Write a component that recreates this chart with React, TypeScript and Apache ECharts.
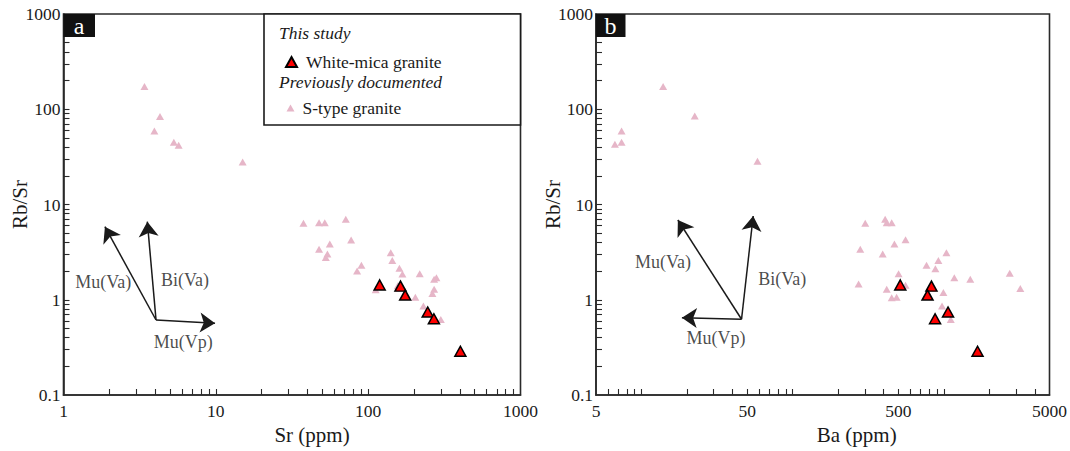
import React, { useEffect, useRef } from "react";
import * as echarts from "echarts";

// ---------- text ----------
const panelLabels = ["a", "b"];
const xAxisNames = ["Sr (ppm)", "Ba (ppm)"];
const yAxisName = "Rb/Sr";
const seriesNames = ["White-mica granite", "S-type granite"];
const legendHeadings = ["This study", "Previously documented"];
const vectorNames = ["Mu(Va)", "Bi(Va)", "Mu(Vp)"];

// ---------- axes ----------
const xLabelValuesA = [1, 10, 100, 1000];
const xLabelValuesB = [5, 50, 500, 5000];
const yLabelValues = [0.1, 1, 10, 100, 1000];
const xTickValuesA = [2, 3, 4, 5, 6, 7, 8, 9, 10, 20, 30, 40, 50, 60, 70, 80, 90, 100, 200, 300, 400, 500, 600, 700, 800, 900];
const xTickValuesB = [6, 7, 8, 9, 10, 20, 30, 40, 50, 60, 70, 80, 90, 100, 200, 300, 400, 500, 600, 700, 800, 900, 1000, 2000, 3000, 4000];
const yTickValues = [0.2, 0.3, 0.4, 0.5, 0.6, 0.7, 0.8, 0.9, 1, 2, 3, 4, 5, 6, 7, 8, 9, 10, 20, 30, 40, 50, 60, 70, 80, 90, 100, 200, 300, 400, 500, 600, 700, 800, 900];

// ---------- data: white-mica granite (this study) ----------
const whiteSr = [119, 163, 175, 246, 270, 403];
const whiteBa = [515, 828, 780, 1066, 875, 1671];
const whiteRbSr = [1.43, 1.39, 1.12, 0.744, 0.632, 0.288];

// ---------- data: S-type granite (previously documented) ----------
const sTypeSr = [3.4, 4.3, 3.95, 5.3, 5.7, 15, 37.6, 47.6, 51.9, 71.3, 77.3, 56, 47.6, 54, 52.7, 90.3, 84.6, 140.7, 144, 160.4, 167.8, 218, 271, 280.6, 271, 264, 112, 156.4, 204, 230.5, 299.8];
const sTypeRbSrA = [173, 84, 59, 45, 42, 28, 6.35, 6.44, 6.44, 6.99, 4.24, 3.85, 3.39, 3.02, 2.77, 2.3, 2.0, 3.12, 2.59, 2.14, 1.86, 1.88, 1.64, 1.7, 1.29, 1.16, 1.27, 1.4, 1.06, 0.86, 0.62];
const sTypeBa = [13.9, 22.5, 7.38, 6.67, 7.38, 58.5, 302, 409, 419, 452, 558, 471, 280, 394, 1040, 920, 768, 879, 1173, 1496, 2729, 3205, 502, 273, 558, 419, 452, 487, 993, 973, 1111];
const sTypeRbSrB = [173, 85, 59, 43, 45, 28.4, 6.35, 6.99, 6.44, 6.44, 4.27, 3.85, 3.39, 3.02, 3.12, 2.59, 2.3, 2.12, 1.7, 1.64, 1.9, 1.31, 1.88, 1.46, 1.42, 1.29, 1.05, 1.06, 1.19, 0.86, 0.62];

// ---------- mineral vectors (data coordinates) ----------
const vectorOriginA = [4.05, 0.613];
const vectorTipsA = [[1.87, 5.85], [3.55, 6.6], [9.88, 0.566]];
const vectorLabelPosA = [[1.825, 1.547], [6.28, 1.61], [6.12, 0.363]];
const vectorOriginB = [45.9, 0.624];
const vectorTipsB = [[17.4, 6.87], [54.8, 7.57], [18.5, 0.648]];
const vectorLabelPosB = [[13.87, 2.51], [85.4, 1.64], [31.1, 0.394]];

const FONT = "Liberation Serif";
const INK = "#1a1a1a";
const PINK = "#e6b6c8";
const RED = "#ff0000";

const fmt = (v: number) => String(+Number(v).toPrecision(6));

function xAxis(gridIndex: number, min: number, max: number, labels: number[], ticks: number[], name: string, padLeft: number) {
  return {
    type: "log", logBase: 10, gridIndex, min, max,
    name, nameLocation: "middle", nameGap: 29, nameMoveOverlap: false,
    nameTextStyle: { fontFamily: FONT, fontSize: 21, color: INK, padding: [0, 0, 0, padLeft] },
    axisLine: { show: true, lineStyle: { color: "#2a2a2a", width: 1.6 } },
    axisTick: { show: true, inside: true, length: 6, customValues: ticks, lineStyle: { color: "#2a2a2a", width: 1.1 } },
    axisLabel: { show: true, customValues: labels, margin: 7, fontFamily: FONT, fontSize: 17.5, color: INK, formatter: fmt },
    splitLine: { show: false },
    minorTick: { show: false },
  };
}

function yAxis(gridIndex: number, nameGap: number) {
  return {
    type: "log", logBase: 10, gridIndex, min: 0.1, max: 1000,
    name: yAxisName, nameLocation: "middle", nameGap, nameRotate: 90, nameMoveOverlap: false,
    nameTextStyle: { fontFamily: FONT, fontSize: 21, color: INK },
    axisLine: { show: true, lineStyle: { color: "#2a2a2a", width: 1.6 } },
    axisTick: { show: true, inside: true, length: 6, customValues: yTickValues, lineStyle: { color: "#2a2a2a", width: 1.1 } },
    axisLabel: { show: true, customValues: yLabelValues, margin: 3, fontFamily: FONT, fontSize: 17.5, color: INK, formatter: fmt },
    splitLine: { show: false },
    minorTick: { show: false },
  };
}

function pairs(xs: number[], ys: number[]) {
  return xs.map((x, i) => [x, ys[i]]);
}

function scatterSeries(idx: number, name: string, data: number[][]) {
  const white = name === seriesNames[0];
  return {
    type: "scatter", name, xAxisIndex: idx, yAxisIndex: idx, data,
    symbol: "triangle",
    symbolSize: white ? [11, 10] : [8, 7],
    itemStyle: white ? { color: RED, borderColor: "#000", borderWidth: 1.5, opacity: 1 } : { color: PINK, opacity: 1 },
    z: white ? 4 : 3,
    silent: true,
  };
}

function vectorSeries(idx: number, origin: number[], tips: number[][]) {
  return {
    type: "lines", coordinateSystem: "cartesian2d", xAxisIndex: idx, yAxisIndex: idx,
    symbol: ["none", "arrow"], symbolSize: 15,
    lineStyle: { color: INK, width: 1.5, opacity: 1 },
    itemStyle: { color: INK },
    data: tips.map((t) => ({ coords: [origin, t] })),
    z: 5, silent: true,
  };
}

function vectorLabelSeries(idx: number, pos: number[][]) {
  return {
    type: "scatter", xAxisIndex: idx, yAxisIndex: idx,
    data: pos.map((p, i) => [p[0], p[1], vectorNames[i]]),
    symbolSize: 1, itemStyle: { color: "transparent" },
    label: { show: true, position: "inside", formatter: (p: any) => p.value[2], fontFamily: FONT, fontSize: 18, color: INK },
    z: 6, silent: true,
  };
}

export default function App() {
  const ref = useRef<HTMLDivElement>(null);
  useEffect(() => {
    if (!ref.current) return;
    const chart = echarts.init(ref.current, undefined, { renderer: "svg" });
    const gridTop = 14, gridH = 381;
    const gA = { left: 63.5, width: 457 };
    const gB = { left: 596, width: 456 };
    const option: any = {
      animation: false,
      backgroundColor: "#fff",
      textStyle: { fontFamily: FONT },
      grid: [
        { left: gA.left, top: gridTop, width: gA.width, height: gridH, show: true, borderColor: "#2a2a2a", borderWidth: 1.6, backgroundColor: "transparent" },
        { left: gB.left, top: gridTop, width: gB.width, height: gridH, show: true, borderColor: "#2a2a2a", borderWidth: 1.6, backgroundColor: "transparent" },
      ],
      xAxis: [
        xAxis(0, 1, 1000, xLabelValuesA, xTickValuesA, xAxisNames[0], 40),
        xAxis(1, 5, 5000, xLabelValuesB, xTickValuesB, xAxisNames[1], 68),
      ],
      yAxis: [yAxis(0, 33), yAxis(1, 33)],
      legend: [
        {
          data: [{ name: seriesNames[0], icon: "triangle" }],
          left: 280, top: 48, itemWidth: 11, itemHeight: 10, orient: "vertical",
          textStyle: { fontFamily: FONT, fontSize: 17.5, color: INK, padding: [0, 0, 0, 4] },
          selectedMode: false,
        },
        {
          data: [{ name: seriesNames[1], icon: "triangle" }],
          left: 281.5, top: 94, itemWidth: 8, itemHeight: 7, orient: "vertical",
          textStyle: { fontFamily: FONT, fontSize: 17.5, color: INK, padding: [0, 0, 0, 3] },
          selectedMode: false,
        },
      ],
      graphic: [
        { type: "rect", shape: { x: 264, y: 14, width: 256.5, height: 111 }, style: { fill: "#fff", stroke: "#1a1a1a", lineWidth: 1.6 }, z: 1, silent: true },
        { type: "text", x: 279, y: 33, style: { text: legendHeadings[0], fontFamily: FONT, fontSize: 17.5, fontStyle: "italic", fill: INK, verticalAlign: "middle" }, z: 10, silent: true },
        { type: "text", x: 279, y: 82, style: { text: legendHeadings[1], fontFamily: FONT, fontSize: 17.5, fontStyle: "italic", fill: INK, verticalAlign: "middle" }, z: 10, silent: true },
        { type: "rect", shape: { x: 63.5, y: 14, width: 31.5, height: 23 }, style: { fill: "#111" }, z: 10, silent: true },
        { type: "text", x: 79, y: 25.5, style: { text: panelLabels[0], fontFamily: FONT, fontSize: 24, fill: "#fff", align: "center", verticalAlign: "middle" }, z: 11, silent: true },
        { type: "rect", shape: { x: 596, y: 14, width: 29.5, height: 23 }, style: { fill: "#111" }, z: 10, silent: true },
        { type: "text", x: 610.5, y: 25.5, style: { text: panelLabels[1], fontFamily: FONT, fontSize: 24, fill: "#fff", align: "center", verticalAlign: "middle" }, z: 11, silent: true },
      ],
      series: [
        scatterSeries(0, seriesNames[1], pairs(sTypeSr, sTypeRbSrA)),
        scatterSeries(0, seriesNames[0], pairs(whiteSr, whiteRbSr)),
        scatterSeries(1, seriesNames[1], pairs(sTypeBa, sTypeRbSrB)),
        scatterSeries(1, seriesNames[0], pairs(whiteBa, whiteRbSr)),
        vectorSeries(0, vectorOriginA, vectorTipsA),
        vectorSeries(1, vectorOriginB, vectorTipsB),
        vectorLabelSeries(0, vectorLabelPosA),
        vectorLabelSeries(1, vectorLabelPosB),
      ],
    };
    chart.setOption(option);
    return () => chart.dispose();
  }, []);
  return <div ref={ref} style={{ position: "fixed", left: 0, top: 0, width: 1070, height: 451, background: "#fff" }} />;
}
